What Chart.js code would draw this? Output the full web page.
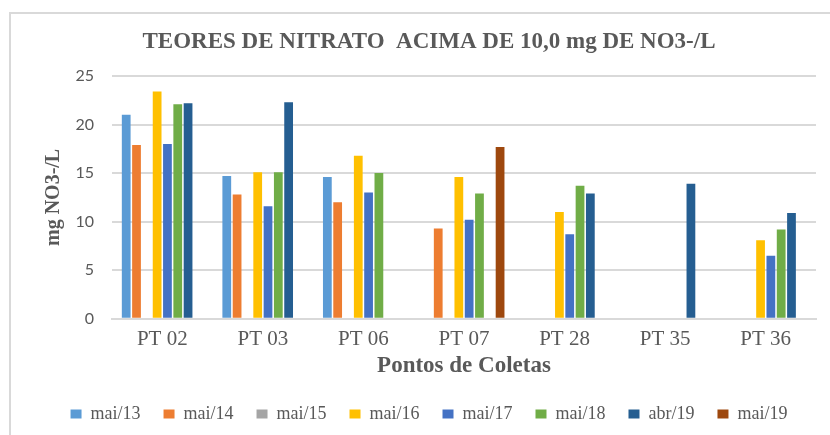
<!DOCTYPE html>
<html>
<head>
<meta charset="utf-8">
<script src="https://cdn.jsdelivr.net/npm/chart.js@4"></script>
<style>
  html, body { margin: 0; padding: 0; background: #fff; }
  #wrap { position: relative; width: 830px; height: 435px; overflow: hidden; }
  #frame { position: absolute; left: 9px; top: 12px; width: 840px; height: 440px;
           border-left: 2px solid #d9d9d9; border-top: 2px solid #d9d9d9; }
  canvas { position: absolute; left: 0; top: 0; }
</style>
</head>
<body>
<div id="wrap">
  <div id="frame"></div>
  <canvas id="chart" width="830" height="435"></canvas>
</div>
<script>
const categories = ['PT 02', 'PT 03', 'PT 06', 'PT 07', 'PT 28', 'PT 35', 'PT 36'];
const mai13 = [21.0, 14.7, 14.6, null, null, null, null];
const mai14 = [17.9, 12.8, 12.0, 9.3, null, null, null];
const mai15 = [null, null, null, null, null, null, null];
const mai16 = [23.4, 15.1, 16.8, 14.6, 11.0, null, 8.1];
const mai17 = [18.0, 11.6, 13.0, 10.2, 8.7, null, 6.5];
const mai18 = [22.1, 15.1, 15.0, 12.9, 13.7, null, 9.2];
const abr19 = [22.2, 22.3, null, null, 12.9, 13.9, 10.9];
const mai19 = [null, null, null, 17.7, null, null, null];
const yTicks = [0, 5, 10, 15, 20, 25];

const serif = '"Liberation Serif", "Times New Roman", serif';
const grey = '#595959';

const series = [
    { label: 'mai/13', data: mai13, color: '#5B9BD5' },
    { label: 'mai/14', data: mai14, color: '#ED7D31' },
    { label: 'mai/15', data: mai15, color: '#A5A5A5' },
    { label: 'mai/16', data: mai16, color: '#FFC000' },
    { label: 'mai/17', data: mai17, color: '#4472C4' },
    { label: 'mai/18', data: mai18, color: '#70AD47' },
    { label: 'abr/19', data: abr19, color: '#255E91' },
    { label: 'mai/19', data: mai19, color: '#9E480E' }
];

const ctx = document.getElementById('chart').getContext('2d');
new Chart(ctx, {
    type: 'bar',
    data: {
        labels: categories,
        datasets: series.map(s => ({
            label: s.label,
            data: s.data,
            backgroundColor: s.color,
            borderWidth: 0,
            categoryPercentage: 0.82,
            barPercentage: 0.85
        }))
    },
    options: {
        responsive: false,
        animation: false,
        devicePixelRatio: 1,
        layout: { padding: { left: 42, right: 14, top: 0, bottom: 2 } },
        scales: {
            x: {
                grid: { display: false, drawTicks: false },
                border: { color: '#d9d9d9', width: 2 },
                ticks: { color: grey, font: { family: serif, size: 21, lineHeight: 1 }, padding: 10.5 },
                afterFit: scale => { scale.height = 63.2; },
                title: {
                    display: true, text: 'Pontos de Coletas', color: grey,
                    font: { family: serif, size: 23, weight: 'bold', lineHeight: 1 },
                    padding: { top: 4, bottom: 4.7 }
                }
            },
            y: {
                min: 0, max: 25,
                afterBuildTicks: scale => { scale.ticks = yTicks.map(v => ({ value: v })); },
                afterFit: scale => { scale.width = 70; },
                grid: { color: '#d9d9d9', lineWidth: 2, drawTicks: false },
                border: { display: false },
                ticks: { color: grey, font: { family: 'Lato, "Open Sans", sans-serif', size: 16 }, padding: 18 },
                title: {
                    display: true, text: 'mg NO3-/L', color: grey,
                    font: { family: serif, size: 20, weight: 'bold' },
                    padding: { top: 0, bottom: 0 }
                }
            }
        },
        plugins: {
            title: {
                display: true,
                text: 'TEORES DE NITRATO  ACIMA DE 10,0 mg DE NO3-/L',
                color: grey,
                font: { family: serif, size: 23, weight: 'bold' },
                padding: { top: 28, bottom: 20.4 }
            },
            legend: {
                position: 'bottom',
                labels: {
                    color: grey,
                    boxWidth: 11, boxHeight: 9,
                    padding: 23,
                    font: { family: serif, size: 18 }
                }
            },
            tooltip: { enabled: false }
        }
    }
});
</script>
</body>
</html>
